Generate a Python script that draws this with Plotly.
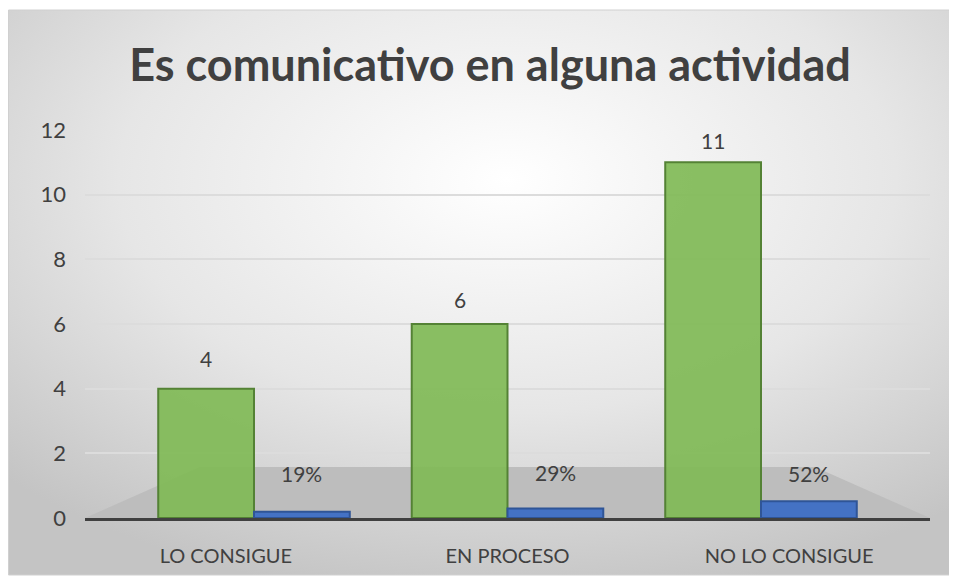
import base64
import plotly.graph_objects as go

categories = ["LO CONSIGUE", "EN PROCESO", "NO LO CONSIGUE"]
counts = [4, 6, 11]
shares = [0.19, 0.29, 0.52]
y_ticks = [0, 2, 4, 6, 8, 10, 12]
title_text = "Es comunicativo en alguna actividad"

S = 8  # page body margin offset
W, H = 957 - S, 580 - S
L, R, T, B = 85 - S, 930 - S, 130 - S, 518 - S   # plot area in figure pixels

BAR_W = 0.34
green_offsets = [-0.24, -0.34, -0.44]
blue_offsets = [0.10, 0.0, -0.10]
green_label_shift = [30, 25, 22]
blue_label_shift = [38, 36, 28]


def px_x(p):
    return (p - S - L) / (R - L)


def px_y(p):
    return (B - (p - S)) / (B - T)


svg = (
    '<svg xmlns="http://www.w3.org/2000/svg" width="942" height="565" preserveAspectRatio="none">'
    '<defs><radialGradient id="g" cx="0.53" cy="0.3" r="0.75">'
    '<stop offset="0" stop-color="#ffffff"/>'
    '<stop offset="0.55" stop-color="#e6e6e6"/>'
    '<stop offset="1" stop-color="#c4c4c4"/>'
    '</radialGradient></defs>'
    '<rect width="942" height="565" fill="url(#g)"/></svg>'
)
bg_uri = "data:image/svg+xml;base64," + base64.b64encode(svg.encode()).decode()

fig = go.Figure()

fig.add_trace(go.Bar(
    x=list(range(len(categories))), y=counts,
    width=BAR_W, offset=green_offsets,
    marker=dict(color="rgba(128,186,86,0.92)", line=dict(color="#548235", width=2)),
    showlegend=False,
))
fig.add_trace(go.Bar(
    x=list(range(len(categories))), y=shares,
    width=BAR_W, offset=blue_offsets,
    marker=dict(color="#4472C4", line=dict(color="#2F5597", width=2)),
    showlegend=False,
))

label_font = dict(family="Lato, Open Sans, sans-serif", size=21, color="#404040")
annotations = []
for i, v in enumerate(counts):
    annotations.append(dict(x=i + green_offsets[i] + BAR_W / 2, y=v, xref="x", yref="y",
                            text=str(v), showarrow=False, yanchor="middle",
                            yshift=green_label_shift[i], font=label_font))
for i, v in enumerate(shares):
    annotations.append(dict(x=i + blue_offsets[i] + BAR_W / 2, y=v, xref="x", yref="y",
                            text=f"{v:.0%}", showarrow=False, yanchor="middle",
                            yshift=blue_label_shift[i], font=label_font))

shapes = [
    # gray floor
    dict(type="path", xref="paper", yref="paper", layer="between",
         path=f"M {px_x(85)},{px_y(518)} L {px_x(200)},{px_y(467)} L {px_x(815)},{px_y(467)} L {px_x(930)},{px_y(518)} Z",
         fillcolor="#BDBDBD", line=dict(width=0)),
    # chart border
    dict(type="rect", xref="paper", yref="paper", layer="above",
         x0=px_x(8.5), x1=px_x(950), y0=px_y(575), y1=px_y(10),
         line=dict(color="#D0D0D0", width=1), fillcolor="rgba(0,0,0,0)"),
]

fig.update_layout(
    width=W, height=H,
    margin=dict(l=L, r=W - R, t=T, b=H - B),
    paper_bgcolor="white", plot_bgcolor="rgba(0,0,0,0)",
    barmode="overlay",
    title=dict(text=f"<b>{title_text}</b>", x=(490 - S) / W, xanchor="center",
               y=1 - (65 - S) / H, yanchor="middle",
               font=dict(family="Lato, Open Sans, sans-serif", size=45, color="#404040")),
    images=[dict(source=bg_uri, xref="paper", yref="paper",
                 x=px_x(8), y=px_y(10), sizex=px_x(950) - px_x(8), sizey=px_y(10) - px_y(575),
                 xanchor="left", yanchor="top", sizing="stretch", layer="below")],
    shapes=shapes,
    annotations=annotations,
    xaxis=dict(range=[-0.5, len(categories) - 0.5], tickvals=list(range(len(categories))),
               ticktext=categories,
               showgrid=False, showline=True, linecolor="#404040", linewidth=3,
               ticks="", ticklabelstandoff=18, zeroline=False,
               tickfont=dict(family="Lato, Open Sans, sans-serif", size=20, color="#404040")),
    yaxis=dict(range=[0, 12], tickvals=y_ticks, showgrid=True, gridcolor="#DCDCDC", gridwidth=1.5,
               zeroline=False, showline=False, ticks="", ticklabelstandoff=18,
               tickfont=dict(family="Lato, Open Sans, sans-serif", size=22, color="#404040")),
)

fig.write_html("out.html")
